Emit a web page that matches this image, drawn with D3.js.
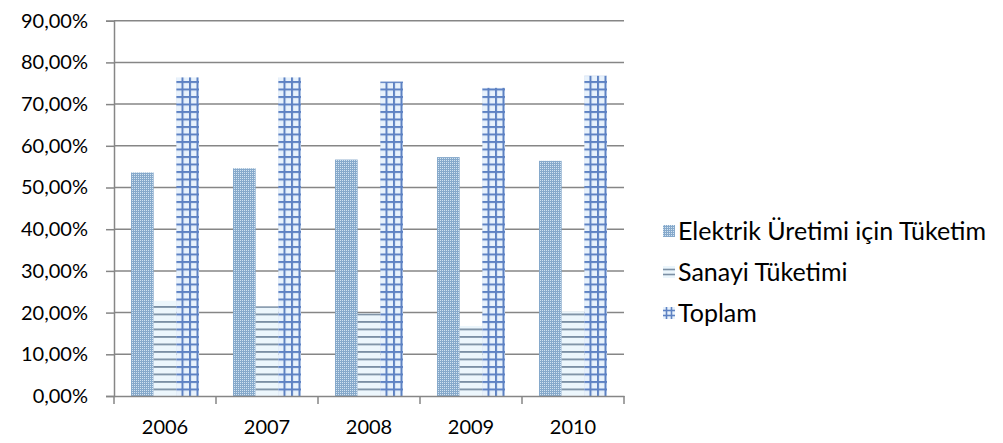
<!DOCTYPE html>
<html>
<head>
<meta charset="utf-8">
<script src="https://cdn.jsdelivr.net/npm/d3@7"></script>
<style>
  html, body { margin: 0; padding: 0; background: #fff; }
  svg { display: block; }
  text { font-family: Lato, "Open Sans", sans-serif; fill: #000; }
</style>
</head>
<body>
<svg id="chart" width="1003" height="443"></svg>
<script>
// Yıllar ve seriler (oran, %)
const years = ["2006", "2007", "2008", "2009", "2010"];
const elektrikUretimi = [53.6, 54.6, 56.7, 57.3, 56.4];
const sanayiTuketimi = [22.8, 21.5, 19.8, 16.8, 20.3];
const toplam = [76.4, 76.4, 75.4, 73.9, 76.8];
const seriesNames = ["Elektrik Üretimi için Tüketim", "Sanayi Tüketimi", "Toplam"];
const yTicks = [0, 10, 20, 30, 40, 50, 60, 70, 80, 90];

const seriesValues = [elektrikUretimi, sanayiTuketimi, toplam];
const patternIds = ["pat-dots", "pat-hlines", "pat-grid"];

const svg = d3.select("#chart");
const plot = { left: 114, right: 624, top: 20.7, bottom: 396 };

const x = d3.scaleBand().domain(years).range([plot.left, plot.right]).paddingInner(0).paddingOuter(0);
const xs = d3.scaleBand().domain(d3.range(seriesNames.length)).range([0, x.bandwidth()])
  .paddingInner(0).paddingOuter(0.75);
const y = d3.scaleLinear().domain([0, 90]).range([plot.bottom, plot.top]);

// Desen dolguları
const defs = svg.append("defs");

const dotDark = "#86a9cb", dotLight = "#d2e3f1";
const hlBack = "#ecf6fc", hlLine = "#7b8fa4";
const grBack = "#e8f2fc", grLine = "#5e82c3";

const pDots = defs.append("pattern").attr("id", "pat-dots")
  .attr("patternUnits", "userSpaceOnUse").attr("width", 2).attr("height", 2);
pDots.append("rect").attr("width", 2).attr("height", 2).attr("fill", dotDark);
pDots.append("rect").attr("width", 1).attr("height", 1).attr("fill", dotLight);

const pH = defs.append("pattern").attr("id", "pat-hlines")
  .attr("patternUnits", "userSpaceOnUse").attr("width", 8).attr("height", 7.5)
  .attr("y", plot.bottom);
pH.append("rect").attr("width", 8).attr("height", 7.5).attr("fill", hlBack);
pH.append("rect").attr("y", 0).attr("width", 8).attr("height", 1.8).attr("fill", hlLine);

const pG = defs.append("pattern").attr("id", "pat-grid")
  .attr("patternUnits", "userSpaceOnUse").attr("width", 7.5).attr("height", 7.5)
  .attr("y", plot.bottom);
pG.append("rect").attr("width", 7.5).attr("height", 7.5).attr("fill", grBack);
pG.append("rect").attr("y", 0).attr("width", 7.5).attr("height", 2).attr("fill", grLine);
pG.append("rect").attr("x", 0).attr("width", 2).attr("height", 7.5).attr("fill", grLine);

// Yatay kılavuz çizgileri
svg.append("g").attr("class", "grid")
  .selectAll("line").data(yTicks.slice(1)).join("line")
  .attr("x1", plot.left).attr("x2", plot.right)
  .attr("y1", d => y(d)).attr("y2", d => y(d))
  .attr("stroke", "#868686").attr("stroke-width", 1.5);

// Çubuklar
const groups = svg.append("g").selectAll("g").data(years).join("g")
  .attr("transform", d => `translate(${x(d)},0)`);
groups.selectAll("rect")
  .data((yr, i) => seriesValues.map((vals, s) => ({ s, v: vals[i] })))
  .join("rect")
  .attr("x", d => xs(d.s))
  .attr("width", xs.bandwidth())
  .attr("y", d => y(d.v))
  .attr("height", d => y(0) - y(d.v))
  .attr("fill", d => `url(#${patternIds[d.s]})`);

// Y ekseni
const yAxis = svg.append("g").attr("transform", `translate(${plot.left},0)`)
  .call(d3.axisLeft(y).tickValues(yTicks).tickSize(8).tickPadding(18)
    .tickFormat(d => d3.format(".2f")(d).replace(".", ",") + "%"));
yAxis.select(".domain").attr("stroke", "#868686").attr("stroke-width", 1.5);
yAxis.selectAll(".tick line").attr("stroke", "#868686").attr("stroke-width", 1.5);
yAxis.selectAll(".tick text").attr("font-size", 20).attr("font-family", "Lato, sans-serif");

// X ekseni
const xAxis = svg.append("g").attr("transform", `translate(0,${plot.bottom})`)
  .call(d3.axisBottom(x).tickSize(0).tickPadding(24));
xAxis.select(".domain").attr("stroke", "#868686").attr("stroke-width", 1.5);
xAxis.selectAll(".tick text").attr("font-size", 20).attr("font-family", "Lato, sans-serif");
// Kategori sınırlarındaki işaretler
xAxis.append("g").selectAll("line")
  .data(years.concat(["end"])).join("line")
  .attr("x1", (d, i) => i < years.length ? x(d) : plot.right)
  .attr("x2", (d, i) => i < years.length ? x(d) : plot.right)
  .attr("y1", 0).attr("y2", 8)
  .attr("stroke", "#868686").attr("stroke-width", 1.5);

// Gösterge
const legendY = [231, 272, 313];
const sw = 12;
const legend = svg.append("g").selectAll("g").data(seriesNames).join("g")
  .attr("transform", (d, i) => `translate(663,${legendY[i]})`);

// Gösterge işaretleri: nokta, iki çizgi, ızgara
legend.filter((d, i) => i === 0).append("rect")
  .attr("x", 0).attr("y", -sw / 2).attr("width", sw).attr("height", sw)
  .attr("fill", "url(#pat-dots)");
const lg1 = legend.filter((d, i) => i === 1);
lg1.append("rect").attr("x", 0).attr("y", -sw / 2).attr("width", sw).attr("height", sw).attr("fill", hlBack);
lg1.selectAll("line.l").data([-2.5, 2.5]).join("line")
  .attr("x1", 0).attr("x2", sw).attr("y1", d => d).attr("y2", d => d)
  .attr("stroke", hlLine).attr("stroke-width", 1.6);
const lg2 = legend.filter((d, i) => i === 2);
lg2.append("rect").attr("x", 0).attr("y", -sw / 2).attr("width", sw).attr("height", sw).attr("fill", grBack);
lg2.selectAll("line.h").data([-2.5, 2.5]).join("line")
  .attr("x1", 0).attr("x2", sw).attr("y1", d => d).attr("y2", d => d)
  .attr("stroke", grLine).attr("stroke-width", 1.6);
lg2.selectAll("line.v").data([3.5, 8.5]).join("line")
  .attr("y1", -sw / 2).attr("y2", sw / 2).attr("x1", d => d).attr("x2", d => d)
  .attr("stroke", grLine).attr("stroke-width", 1.6);

legend.append("text")
  .attr("x", 15).attr("y", 0).attr("dy", "0.35em")
  .attr("font-size", 25)
  .text(d => d);
</script>
</body>
</html>
